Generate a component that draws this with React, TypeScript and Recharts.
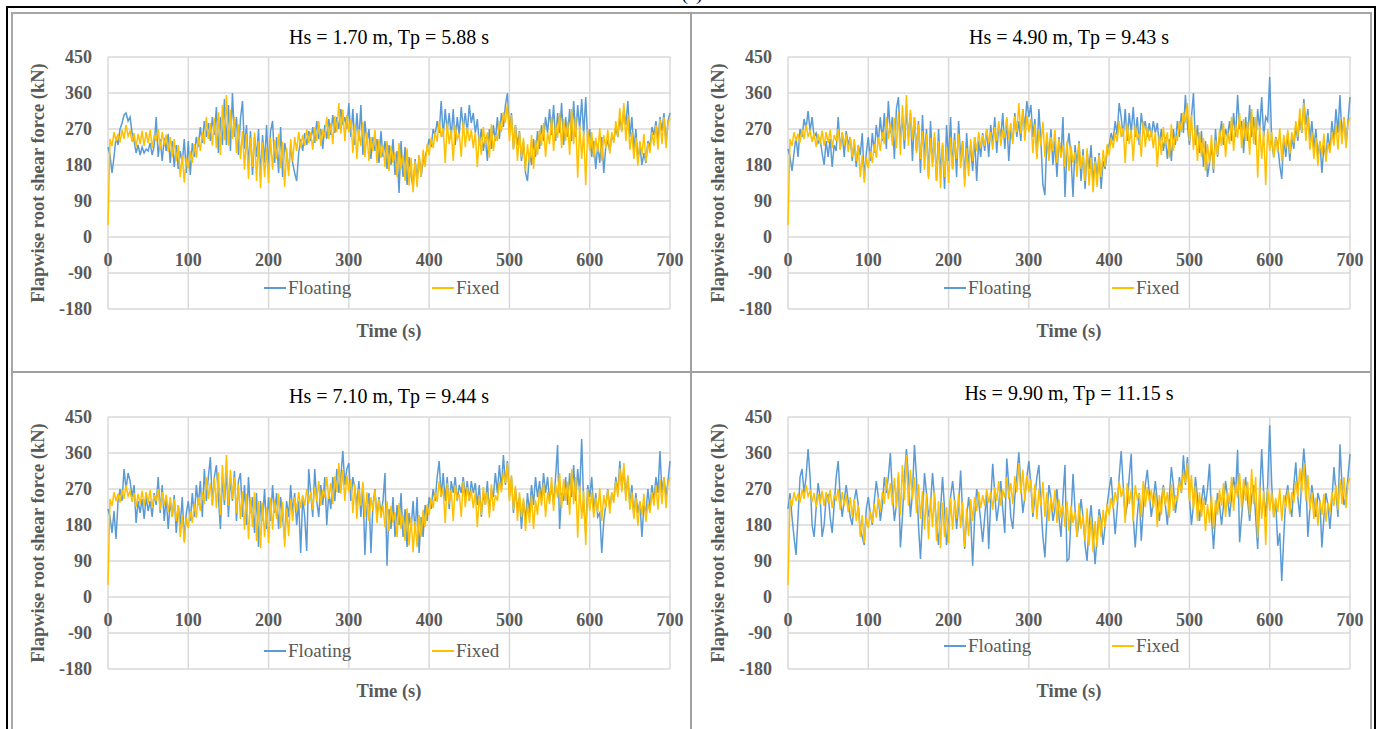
import React from 'react';
import { LineChart, Line, XAxis, YAxis, CartesianGrid, Legend } from 'recharts';

// ---------- data (sampled every 2.5 s, t = 0 … 700 s) ----------
const TIME_STEP = 2.5;
const X_TICKS = [0, 100, 200, 300, 400, 500, 600, 700];
const Y_TICKS = [-180, -90, 0, 90, 180, 270, 360, 450];
const SERIES_ORDER = ['Floating', 'Fixed'];

const PANEL_TITLES = [
  'Hs = 1.70 m, Tp = 5.88 s',
  'Hs = 4.90 m, Tp = 9.43 s',
  'Hs = 7.10 m, Tp = 9.44 s',
  'Hs = 9.90 m, Tp = 11.15 s',
];

// Fixed turbine (same wind loading in every panel)
const fixedForce = [
  30, 245, 228, 262, 240, 258, 236, 268, 245, 280, 252, 265, 238, 260, 225, 258, 232, 266, 228, 262,
  235, 268, 222, 255, 240, 270, 218, 262, 230, 256, 212, 250, 200, 245, 190, 230, 150, 205, 136, 198,
  172, 215, 185, 232, 198, 250, 215, 262, 232, 300, 245, 285, 228, 298, 222, 312, 205, 330, 242, 355,
  228, 318, 245, 300, 210, 282, 195, 265, 168, 258, 145, 248, 175, 262, 140, 240, 122, 236, 150, 225,
  135, 248, 168, 242, 195, 258, 172, 238, 125, 222, 152, 245, 190, 250, 215, 262, 222, 255, 228, 270,
  235, 262, 218, 275, 240, 290, 228, 268, 248, 300, 245, 285, 232, 302, 262, 335, 258, 318, 240, 305,
  262, 295, 210, 282, 195, 270, 228, 288, 200, 262, 190, 250, 215, 268, 185, 245, 198, 230, 175, 240,
  165, 228, 185, 212, 150, 235, 170, 205, 140, 222, 128, 198, 112, 190, 125, 205, 150, 218, 175, 232,
  205, 248, 222, 262, 238, 290, 250, 272, 185, 285, 232, 268, 190, 280, 245, 258, 200, 290, 225, 275,
  240, 268, 222, 262, 175, 255, 205, 275, 230, 262, 198, 282, 215, 255, 240, 290, 262, 312, 285, 335,
  240, 305, 218, 278, 190, 262, 200, 248, 165, 232, 185, 255, 170, 242, 205, 268, 228, 285, 200, 262,
  232, 300, 215, 282, 248, 310, 222, 295, 240, 288, 205, 320, 232, 300, 148, 278, 195, 265, 130, 270,
  215, 262, 198, 248, 212, 272, 190, 255, 222, 268, 208, 262, 235, 290, 250, 322, 262, 335, 240, 305,
  218, 262, 195, 248, 178, 240, 205, 258, 188, 235, 210, 262, 228, 280, 218, 295, 232, 300, 222, 285,
  298,
];

// Floating turbine, Hs = 1.70 m
const floating1 = [
  225, 205, 160, 200, 250, 230, 270, 285, 305, 310, 290, 300, 260, 240, 210, 230, 205, 225, 210, 220,
  215, 235, 205, 228, 300, 200, 245, 190, 248, 215, 258, 185, 240, 175, 230, 170, 215, 185, 245, 160,
  240, 155, 235, 200, 250, 225, 275, 235, 290, 250, 285, 240, 300, 255, 325, 210, 300, 230, 345, 230,
  330, 215, 360, 250, 300, 205, 295, 340, 220, 280, 175, 265, 155, 250, 200, 270, 150, 255, 185, 280,
  170, 265, 290, 185, 250, 160, 275, 150, 235, 210, 165, 225, 185, 160, 140, 210, 245, 215, 260, 230,
  265, 240, 275, 235, 290, 245, 270, 220, 280, 245, 295, 255, 305, 260, 300, 270, 320, 280, 300, 270,
  335, 250, 320, 230, 310, 240, 330, 205, 290, 235, 270, 195, 250, 215, 245, 185, 265, 200, 240, 170,
  230, 180, 245, 155, 215, 110, 240, 150, 225, 130, 200, 155, 120, 195, 140, 205, 150, 190, 200, 220,
  245, 225, 270, 255, 290, 260, 340, 250, 320, 265, 310, 250, 320, 230, 300, 255, 325, 270, 310, 260,
  330, 285, 310, 260, 295, 230, 270, 215, 250, 190, 270, 220, 280, 240, 300, 245, 310, 275, 330, 360,
  260, 310, 220, 280, 230, 265, 190, 240, 160, 140, 210, 180, 245, 200, 265, 220, 280, 240, 300, 260,
  320, 255, 330, 240, 310, 260, 335, 230, 300, 250, 320, 240, 340, 250, 330, 270, 345, 255, 350, 240,
  270, 200, 240, 170, 230, 185, 250, 160, 225, 240, 215, 255, 240, 275, 250, 300, 265, 320, 280, 340,
  250, 300, 215, 270, 190, 230, 180, 210, 185, 240, 225, 275, 255, 290, 240, 300, 265, 310, 230, 290,
  310,
];

// Floating turbine, Hs = 4.90 m
const floating2 = [
  220, 200, 165, 210, 250, 200, 270, 250, 295, 270, 315, 265, 300, 250, 260, 235, 245, 210, 180, 240,
  200, 245, 175, 230, 215, 300, 220, 260, 200, 265, 230, 250, 190, 240, 175, 230, 205, 260, 145, 210,
  250, 190, 260, 210, 280, 235, 300, 240, 310, 220, 340, 260, 300, 195, 320, 350, 240, 300, 220, 320,
  250, 310, 190, 300, 215, 290, 160, 305, 200, 270, 150, 290, 185, 250, 140, 270, 160, 230, 120, 280,
  190, 300, 170, 260, 150, 290, 200, 240, 145, 260, 180, 230, 165, 250, 140, 240, 200, 260, 215, 270,
  200, 280, 230, 300, 210, 280, 250, 310, 220, 295, 190, 270, 240, 310, 250, 290, 240, 320, 270, 340,
  300, 330, 250, 295, 200, 320, 240, 130, 105, 250, 200, 270, 180, 240, 150, 250, 200, 300, 100, 220,
  260, 200, 100, 230, 180, 240, 140, 220, 120, 215, 170, 230, 130, 200, 150, 210, 120, 190, 170, 215,
  230, 260, 240, 290, 255, 335, 300, 250, 320, 240, 310, 260, 325, 250, 300, 230, 310, 270, 290, 250,
  285, 250, 290, 260, 285, 230, 270, 215, 250, 195, 245, 190, 270, 230, 290, 250, 310, 260, 355, 280,
  230, 300, 360, 230, 280, 210, 265, 175, 240, 150, 185, 230, 160, 270, 200, 250, 290, 230, 270, 250,
  290, 240, 310, 250, 355, 270, 290, 210, 300, 240, 330, 250, 300, 230, 320, 270, 350, 250, 300, 290,
  400, 240, 200, 250, 230, 180, 145, 250, 200, 260, 190, 250, 220, 280, 240, 300, 260, 345, 280, 320,
  240, 290, 220, 270, 200, 240, 160, 230, 200, 260, 215, 290, 240, 320, 260, 355, 250, 300, 230, 290,
  350,
];

// Floating turbine, Hs = 7.10 m
const floating3 = [
  220, 200, 160, 215, 145, 240, 270, 240, 320, 270, 310, 290, 250, 280, 185, 240, 210, 245, 195, 250,
  215, 240, 200, 260, 230, 300, 210, 280, 190, 250, 170, 240, 200, 255, 160, 230, 180, 250, 140, 210,
  240, 190, 260, 200, 280, 230, 290, 200, 320, 240, 300, 350, 230, 300, 330, 250, 170, 300, 230, 320,
  200, 300, 240, 315, 190, 290, 310, 200, 280, 180, 300, 210, 250, 160, 260, 125, 240, 190, 270, 170,
  250, 190, 280, 210, 260, 170, 250, 200, 145, 240, 200, 280, 210, 260, 180, 240, 110, 250, 200, 115,
  320, 260, 200, 320, 240, 200, 280, 230, 300, 180, 260, 220, 300, 240, 320, 260, 300, 365, 280, 320,
  335, 240, 300, 270, 230, 290, 200, 280, 105, 220, 260, 110, 230, 270, 200, 250, 210, 240, 310, 78,
  220, 170, 250, 150, 230, 180, 260, 150, 220, 125, 210, 170, 240, 160, 250, 110, 200, 150, 230, 190,
  250, 220, 270, 240, 300, 340, 250, 310, 240, 300, 220, 290, 260, 300, 240, 280, 260, 300, 250, 290,
  240, 290, 260, 285, 230, 280, 200, 260, 230, 290, 210, 270, 250, 310, 260, 330, 270, 355, 280, 340,
  250, 300, 210, 270, 220, 250, 170, 240, 190, 260, 210, 280, 230, 300, 250, 290, 240, 310, 260, 300,
  240, 280, 230, 300, 380, 170, 260, 240, 300, 230, 310, 250, 330, 240, 320, 260, 395, 230, 160, 280,
  250, 300, 210, 260, 200, 210, 110, 190, 230, 270, 220, 260, 240, 300, 260, 340, 270, 320, 250, 300,
  230, 280, 200, 260, 210, 240, 150, 230, 210, 270, 220, 280, 240, 300, 260, 365, 260, 300, 250, 290,
  340,
];

// Floating turbine, Hs = 9.90 m
const floating4 = [
  220, 260, 200, 150, 105, 200, 300, 320, 260, 300, 370, 300, 180, 150, 220, 285, 250, 150, 180, 250,
  255, 200, 160, 230, 300, 340, 250, 200, 240, 280, 240, 200, 180, 240, 270, 230, 170, 150, 130, 220,
  250, 210, 180, 240, 290, 250, 190, 230, 300, 260, 300, 360, 260, 190, 230, 300, 124, 200, 300, 370,
  300, 200, 260, 380, 300, 180, 95, 200, 310, 260, 200, 230, 310, 250, 180, 130, 220, 300, 220, 130,
  180, 250, 290, 240, 170, 230, 316, 210, 120, 200, 250, 200, 78, 200, 270, 240, 190, 137, 200, 260,
  120, 240, 333, 260, 190, 230, 290, 220, 160, 346, 280, 200, 170, 250, 300, 362, 280, 210, 250, 300,
  340, 280, 200, 250, 300, 330, 230, 150, 99, 200, 280, 250, 190, 220, 270, 200, 150, 250, 330, 90,
  95, 200, 308, 220, 150, 190, 245, 200, 130, 90, 180, 230, 160, 82, 150, 220, 190, 130, 180, 230,
  270, 300, 230, 157, 220, 300, 365, 280, 200, 230, 300, 358, 200, 124, 200, 260, 141, 220, 280, 318,
  260, 200, 240, 290, 240, 190, 240, 280, 230, 180, 250, 325, 280, 210, 250, 300, 260, 354, 280, 350,
  250, 180, 230, 300, 250, 190, 240, 280, 230, 270, 333, 200, 120, 200, 260, 230, 180, 230, 290, 250,
  200, 250, 300, 260, 368, 137, 200, 260, 300, 240, 190, 250, 280, 200, 120, 250, 370, 260, 200, 280,
  429, 280, 200, 240, 128, 160, 40, 150, 250, 280, 230, 200, 280, 337, 250, 200, 300, 371, 300, 150,
  220, 280, 240, 200, 260, 240, 124, 200, 260, 230, 170, 240, 325, 260, 200, 382, 280, 230, 250, 300,
  358,
];

const FLOATING_SERIES = [floating1, floating2, floating3, floating4];

// ---------- styling / layout ----------
const BLUE = '#5B9BD5';
const GOLD = '#FFC000';
const TEXT_GRAY = '#595959';
const FONT = '"Liberation Serif", "Times New Roman", serif';

const CHART_W = 678;
const CHART_H = 359;
const MARGIN = { top: 44, right: 20, bottom: 43, left: 0 };
const Y_AXIS_W = 96;
const PLOT_W = CHART_W - Y_AXIS_W - MARGIN.right;

const PANEL_BOXES = [
  { left: 12, top: 13, titleY: 24, legendY: 275 },
  { left: 692, top: 13, titleY: 24, legendY: 275 },
  { left: 12, top: 373, titleY: 23, legendY: 278 },
  { left: 692, top: 373, titleY: 20, legendY: 273 },
];

const XTick = (props: any) => {
  const { x, y, payload } = props;
  return (
    <text
      x={x}
      y={y - 49}
      textAnchor="middle"
      dominantBaseline="central"
      style={{ fontFamily: FONT, fontSize: 18, fontWeight: 700, fill: TEXT_GRAY }}
    >
      {payload.value}
    </text>
  );
};

const YLabel = (props: any) => {
  const vb = props.viewBox || { x: 0, y: MARGIN.top, width: Y_AXIS_W, height: 252 };
  const cx = vb.x + 26;
  const cy = vb.y + vb.height / 2;
  return (
    <text
      x={cx}
      y={cy}
      transform={`rotate(-90 ${cx} ${cy})`}
      textAnchor="middle"
      dominantBaseline="central"
      style={{ fontFamily: FONT, fontSize: 18.5, fontWeight: 700, fill: TEXT_GRAY }}
    >
      Flapwise root shear force (kN)
    </text>
  );
};

const XLabel = (props: any) => {
  const vb = props.viewBox || { x: Y_AXIS_W, y: CHART_H - MARGIN.bottom - 20, width: PLOT_W, height: 20 };
  return (
    <text
      x={vb.x + vb.width / 2}
      y={vb.y + 22}
      textAnchor="middle"
      dominantBaseline="central"
      style={{ fontFamily: FONT, fontSize: 18.5, fontWeight: 700, fill: TEXT_GRAY }}
    >
      Time (s)
    </text>
  );
};

const LEGEND_ITEM_X = [0, 168];

const LegendContent = (props: any) => {
  const payload = [...(props.payload || [])].sort(
    (a: any, b: any) => SERIES_ORDER.indexOf(a.value) - SERIES_ORDER.indexOf(b.value)
  );
  return (
    <div style={{ position: 'relative', width: 260, height: 22, fontFamily: FONT, fontSize: 19, color: TEXT_GRAY }}>
      {payload.map((entry: any, i: number) => (
        <div key={entry.value} style={{ position: 'absolute', left: LEGEND_ITEM_X[i], top: 0, height: 22, whiteSpace: 'nowrap' }}>
          <span style={{ position: 'absolute', left: 0, top: 10, width: 22, height: 1.5, background: entry.color }} />
          <span style={{ position: 'absolute', left: 24, top: 0, lineHeight: '22px' }}>{entry.value}</span>
        </div>
      ))}
    </div>
  );
};

function Panel({ index }: { index: number }) {
  const box = PANEL_BOXES[index];
  const floating = FLOATING_SERIES[index];
  const data = fixedForce.map((v, i) => ({ t: i * TIME_STEP, Floating: floating[i], Fixed: v }));
  return (
    <div style={{ position: 'absolute', left: box.left, top: box.top, width: CHART_W, height: CHART_H }}>
      <LineChart width={CHART_W} height={CHART_H} data={data} margin={MARGIN}>
        <CartesianGrid stroke="#d9d9d9" strokeWidth={1.5} />
        <XAxis
          dataKey="t"
          type="number"
          domain={[0, 700]}
          ticks={X_TICKS}
          interval={0}
          tickLine={false}
          axisLine={false}
          tickSize={0}
          tickMargin={0}
          height={20}
          tick={<XTick />}
          label={<XLabel />}
        />
        <YAxis
          type="number"
          domain={[-180, 450]}
          ticks={Y_TICKS}
          interval={0}
          width={Y_AXIS_W}
          tickLine={false}
          axisLine={false}
          tickSize={0}
          tickMargin={16}
          tick={{ fontFamily: FONT, fontSize: 18, fontWeight: 700, fill: TEXT_GRAY }}
          label={<YLabel />}
        />
        <Legend
          layout="horizontal"
          verticalAlign="middle"
          align="center"
          content={<LegendContent />}
          wrapperStyle={{ left: 252, top: box.legendY - 11, width: 260, height: 22 }}
        />
        <Line type="linear" dataKey="Floating" stroke={BLUE} strokeWidth={1.5} dot={false} isAnimationActive={false} />
        <Line type="linear" dataKey="Fixed" stroke={GOLD} strokeWidth={1.5} dot={false} isAnimationActive={false} />
      </LineChart>
      <div
        style={{
          position: 'absolute',
          left: Y_AXIS_W,
          width: PLOT_W,
          top: box.titleY - 13,
          height: 26,
          lineHeight: '26px',
          textAlign: 'center',
          fontFamily: FONT,
          fontSize: 20,
          color: '#000',
          whiteSpace: 'nowrap',
        }}
      >
        {PANEL_TITLES[index]}
      </div>
    </div>
  );
}

const line = (s: React.CSSProperties) => <div style={{ position: 'absolute', ...s }} />;

export default function App() {
  return (
    <div style={{ position: 'absolute', left: 0, top: 0, width: 1381, height: 729, background: '#fff', overflow: 'hidden' }}>
      <div style={{ position: 'absolute', left: 642, width: 100, top: -16, textAlign: 'center', fontFamily: FONT, fontSize: 19, lineHeight: '19px', color: '#000' }}>
        (a)
      </div>
      {line({ left: 6, top: 6, width: 1370, height: 2, background: '#000' })}
      {line({ left: 6, top: 6, width: 2, height: 740, background: '#000' })}
      {line({ left: 1374, top: 6, width: 2, height: 740, background: '#000' })}
      {line({ left: 11, top: 12, width: 1360, height: 1.5, background: '#a6a6a6' })}
      {line({ left: 11, top: 12, width: 1.5, height: 740, background: '#a6a6a6' })}
      {line({ left: 1370, top: 12, width: 1.5, height: 740, background: '#a6a6a6' })}
      {line({ left: 690, top: 12, width: 1.5, height: 740, background: '#a0a0a0' })}
      {line({ left: 11, top: 371, width: 1360, height: 1.5, background: '#a0a0a0' })}
      {[0, 1, 2, 3].map((i) => (
        <Panel key={i} index={i} />
      ))}
    </div>
  );
}
